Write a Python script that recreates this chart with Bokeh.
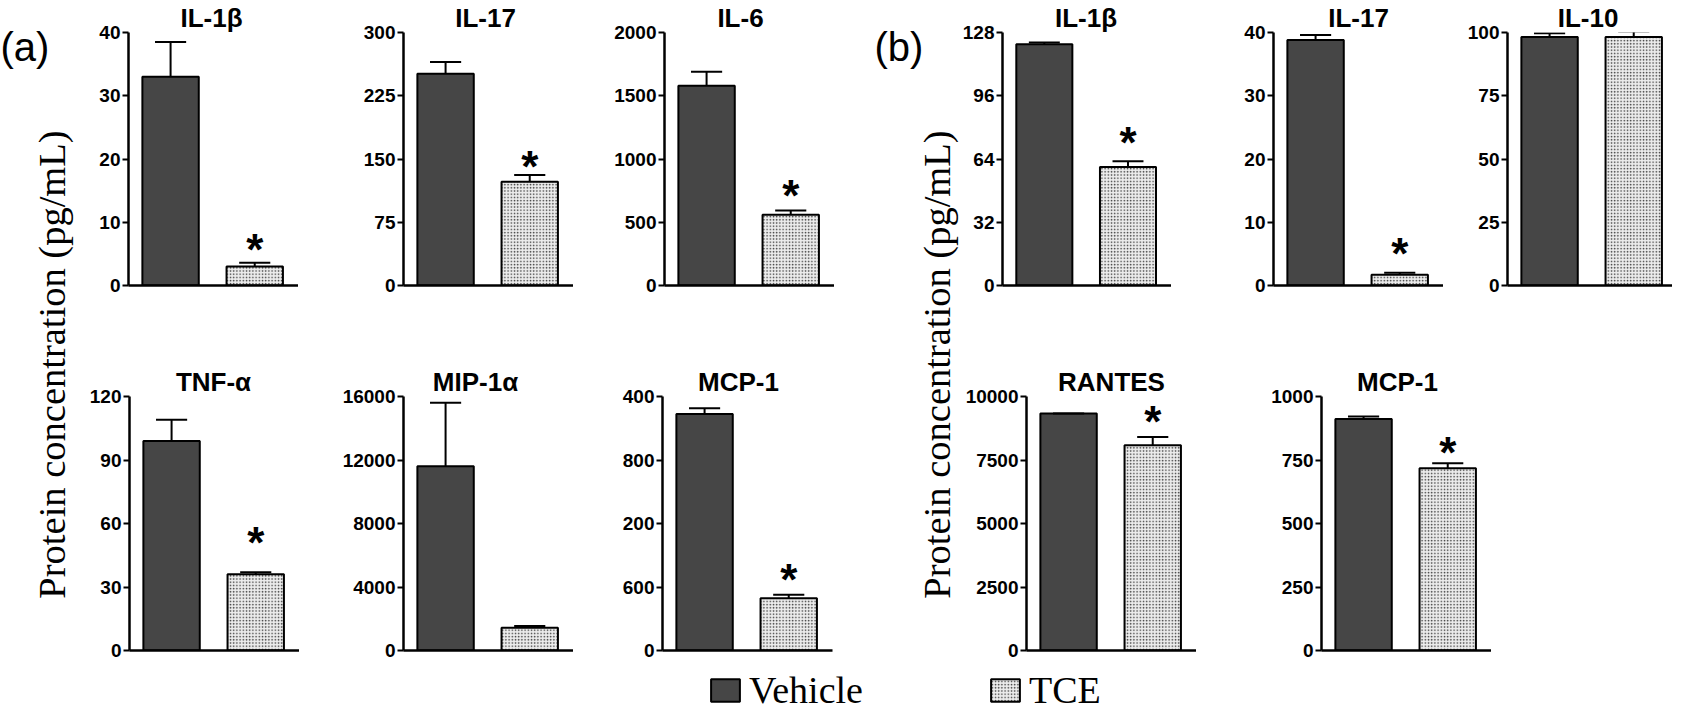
import math
from bokeh.plotting import figure
from bokeh.models import Range1d, FixedTicker, Label, Legend, LegendItem, ColumnDataSource
from bokeh.layouts import row, column
from bokeh.embed import file_html
from bokeh.resources import INLINE

# ---------------- data ----------------
groups = ["Vehicle", "TCE"]

# panel (a)
a_names = ["IL-1β", "IL-17", "IL-6", "TNF-α", "MIP-1α", "MCP-1"]
a_ymax = [40, 300, 2000, 120, 16000, 2400]
a_ticks = [[0, 10, 20, 30, 40], [0, 75, 150, 225, 300], [0, 500, 1000, 1500, 2000],
           [0, 30, 60, 90, 120], [0, 4000, 8000, 12000, 16000], [0, 600, 1200, 1800, 2400]]
a_tick_text = [None, None, None, None, None, ["0", "600", "200", "800", "400"]]
a_vehicle = [33, 251, 1580, 99, 11600, 2235]
a_vehicle_sem = [5.5, 14, 110, 10, 4000, 53]
a_tce = [3.0, 123, 560, 36, 1440, 494]
a_tce_sem = [0.6, 8, 32, 1, 100, 32]
a_star = [8, 159, 830, 58, None, 808]

# panel (b)
b_names = ["IL-1β", "IL-17", "IL-10", "RANTES", "MCP-1"]
b_ymax = [128, 40, 100, 10000, 1000]
b_ticks = [[0, 32, 64, 96, 128], [0, 10, 20, 30, 40], [0, 25, 50, 75, 100],
           [0, 2500, 5000, 7500, 10000], [0, 250, 500, 750, 1000]]
b_tick_text = [None, None, None, None, None]
b_vehicle = [122, 38.8, 98.2, 9330, 911]
b_vehicle_sem = [1.0, 0.8, 1.5, 0, 10]
b_tce = [60, 1.7, 98.2, 8080, 718]
b_tce_sem = [2.8, 0.3, 2.2, 330, 19]
b_star = [80, 7.5, None, 9590, 840]

ylabel_text = "Protein concentration (pg/mL)"

# ---------------- style ----------------
VEH_FILL = "#464646"
SANS = "Liberation Sans"
SERIF = "Liberation Serif"
FRAME_H = 254
PX = 170 / 2.02          # pixels per x unit
BAR_W = 0.67
CAP = 0.185
TCE_STYLE = dict(fill_color="#ececec", hatch_pattern="dot", hatch_color="#3c3c3c",
                 hatch_scale=3.2, hatch_weight=1.3)


def make_panel(name, ymax, ticks, tick_text, veh, veh_e, tce, tce_e, star,
               left, right, top, bottom, frame_w=170, title_shift=0):
    x_end = 0.5 + frame_w / PX
    p = figure(width=left + frame_w + right, height=top + FRAME_H + bottom,
               x_range=Range1d(0.5, x_end), y_range=Range1d(0, ymax),
               toolbar_location=None, output_backend="svg",
               min_border_left=left, min_border_right=right,
               min_border_top=top, min_border_bottom=bottom)
    p.grid.visible = False
    p.outline_line_color = None
    p.background_fill_color = "white"
    p.border_fill_color = "white"

    p.title.text = name
    p.title.align = "center"
    p.title.standoff = 0
    if title_shift:
        p.title.padding = dict(left=0, right=2 * title_shift, top=0, bottom=0)
    p.title.text_font = SANS
    p.title.text_font_style = "bold"
    p.title.text_font_size = "26px"
    p.title.text_color = "black"

    xs = [1, 2]
    p.vbar(x=[xs[0]], top=[veh], width=BAR_W, bottom=0, fill_color=VEH_FILL,
           line_color="black", line_width=2)
    p.vbar(x=[xs[1]], top=[tce], width=BAR_W, bottom=0, line_color="black",
           line_width=2, **TCE_STYLE)
    src = ColumnDataSource(dict(x=xs, top=[veh, tce], err=[veh + veh_e, tce + tce_e],
                                x0=[x - CAP for x in xs], x1=[x + CAP for x in xs]))
    p.segment(x0="x", y0="top", x1="x", y1="err", source=src, line_color="black", line_width=2)
    p.segment(x0="x0", y0="err", x1="x1", y1="err", source=src, line_color="black", line_width=2)

    ya = p.yaxis[0]
    ya.ticker = FixedTicker(ticks=ticks)
    if tick_text:
        ya.major_label_overrides = {t: s for t, s in zip(ticks, tick_text)}
    ya.axis_line_width = 2.5
    ya.axis_line_color = "black"
    ya.major_tick_line_width = 2
    ya.major_tick_line_color = "black"
    ya.major_tick_out = 6
    ya.major_tick_in = 0
    ya.minor_tick_line_color = None
    ya.major_label_text_font = SANS
    ya.major_label_text_font_style = "bold"
    ya.major_label_text_font_size = "19px"
    ya.major_label_text_color = "black"
    ya.major_label_standoff = 2

    xa = p.xaxis[0]
    xa.ticker = FixedTicker(ticks=[])
    xa.axis_line_width = 2.5
    xa.axis_line_color = "black"
    xa.major_tick_line_color = None
    xa.minor_tick_line_color = None
    xa.major_label_text_font_size = "0px"

    if star is not None:
        p.add_layout(Label(x=2, y=star, text="*", text_align="center",
                           text_baseline="alphabetic", y_offset=-15,
                           text_font=SANS, text_font_style="bold", text_font_size="44px",
                           text_color="black"))
    return p


def plain_fig(w, h):
    f = figure(width=w, height=h, x_range=Range1d(0, w), y_range=Range1d(0, h),
               toolbar_location=None, output_backend="svg",
               x_axis_type=None, y_axis_type=None, min_border=0)
    f.grid.visible = False
    f.outline_line_color = None
    f.background_fill_color = "white"
    f.border_fill_color = "white"
    return f


def pa(i, **kw):
    return make_panel(a_names[i], a_ymax[i], a_ticks[i], a_tick_text[i], a_vehicle[i],
                      a_vehicle_sem[i], a_tce[i], a_tce_sem[i], a_star[i], **kw)


def pb(i, **kw):
    return make_panel(b_names[i], b_ymax[i], b_ticks[i], b_tick_text[i], b_vehicle[i],
                      b_vehicle_sem[i], b_tce[i], b_tce_sem[i], b_star[i], **kw)


T1, B1 = 31, 71
T2, B2 = 40, 12
H_MAIN = T1 + FRAME_H + B1 + T2 + FRAME_H + B2
MID_W = 125

row_a1 = row([pa(0, left=50, right=0, top=T1, bottom=B1, title_shift=2),
              pa(1, left=105, right=0, top=T1, bottom=B1, title_shift=3),
              pa(2, left=91, right=0, top=T1, bottom=B1, title_shift=9)])
row_a2 = row([pa(3, left=51, right=0, top=T2, bottom=B2, title_shift=1),
              pa(4, left=104, right=0, top=T2, bottom=B2, title_shift=13),
              pa(5, left=89, right=2, top=T2, bottom=B2, title_shift=9)])
row_b1 = row([pb(0, left=46 - (MID_W - 121), right=0, top=T1, bottom=B1, title_shift=1),
              pb(1, left=102, right=0, top=T1, bottom=B1, title_shift=0),
              pb(2, left=64, right=0, top=T1, bottom=B1, frame_w=165, title_shift=2)])
row_b2 = row([pb(3, left=71 - (MID_W - 121), right=0, top=T2, bottom=B2, title_shift=0),
              pb(4, left=125, right=0, top=T2, bottom=B2, title_shift=9)])

left_fig = plain_fig(78, H_MAIN)
left_fig.add_layout(Label(x=0, y=H_MAIN - 46, text="(a)", text_align="left",
                          text_baseline="alphabetic", text_font=SANS,
                          text_font_size="40px", text_color="black"))
left_fig.add_layout(Label(x=51, y=H_MAIN - 364, text=ylabel_text, angle=math.pi / 2,
                          text_align="center", text_baseline="alphabetic",
                          text_font=SERIF, text_font_size="38.5px", text_color="black"))

mid_fig = plain_fig(MID_W, H_MAIN)
mid_fig.add_layout(Label(x=40, y=H_MAIN - 46, text="(b)", text_align="left",
                         text_baseline="alphabetic", text_font=SANS,
                         text_font_size="40px", text_color="black"))
mid_fig.add_layout(Label(x=102, y=H_MAIN - 364, text=ylabel_text, angle=math.pi / 2,
                         text_align="center", text_baseline="alphabetic",
                         text_font=SERIF, text_font_size="38.5px", text_color="black"))

# legend
NAN = float("nan")
leg = plain_fig(1672, 712 - H_MAIN)
rv = leg.vbar(x=[NAN], top=[NAN], width=0.5, fill_color=VEH_FILL, line_color="black", line_width=2)
rt = leg.vbar(x=[NAN], top=[NAN], width=0.5, line_color="black", line_width=2, **TCE_STYLE)
legend = Legend(items=[LegendItem(label=groups[0], renderers=[rv]),
                       LegendItem(label=groups[1], renderers=[rt])],
                location=(707, 0), orientation="horizontal",
                glyph_width=36, glyph_height=28, label_standoff=6, spacing=124,
                padding=0, margin=0, border_line_color=None, background_fill_alpha=0,
                label_text_font=SERIF, label_text_font_size="38px",
                label_text_color="black")
leg.add_layout(legend, "center")

main = row([left_fig, column([row_a1, row_a2]), mid_fig, column([row_b1, row_b2])])
layout = column([main, leg])

open("out.html", "w").write(file_html(layout, INLINE))
